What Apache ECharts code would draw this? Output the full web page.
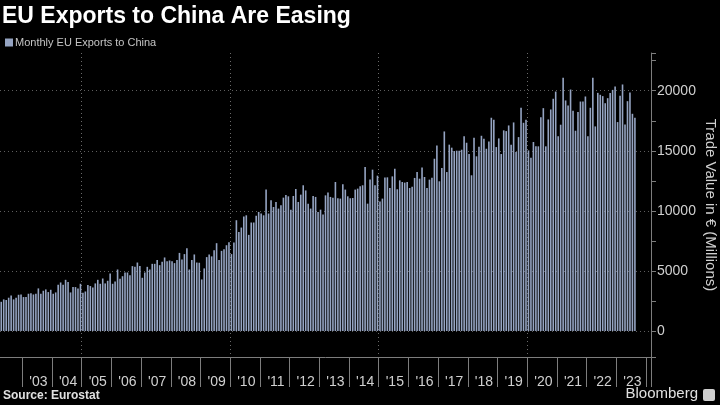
<!DOCTYPE html>
<html><head><meta charset="utf-8">
<script src="https://cdn.jsdelivr.net/npm/echarts@6/dist/echarts.min.js"></script>
<style>html,body{margin:0;padding:0;background:#000;}#c{width:720px;height:405px;}</style>
</head><body><div id="c"></div>
<script>
const chartTitle = 'EU Exports to China Are Easing';
const seriesName = 'Monthly EU Exports to China';
const axisName = 'Trade Value in € (Millions)';
const sourceText = 'Source: Eurostat';
// first data month and last month shown on the axis
const firstMonth = { year: 2002, month: 4 };
const lastAxisMonth = { year: 2024, month: 2 };

// Monthly exports, € millions (Apr 2002 .. Aug 2023)
const exports2002 = [2430, 2630, 2575, 2770, 2960, 2630, 2770, 3015, 3040];
const exports2003 = [2825, 2825, 3100, 3150, 3040, 3100, 3545, 3100, 3350, 3460, 3240, 3430];
const exports2004 = [3100, 3210, 3850, 4040, 3850, 4260, 4070, 3210, 3655, 3655, 3545, 3930];
const exports2005 = [3180, 3290, 3820, 3740, 3630, 3960, 4260, 3930, 4370, 3960, 4180, 4790];
const exports2006 = [3930, 4120, 5120, 4340, 4560, 4870, 4870, 4650, 5400, 5340, 5700, 5400];
const exports2007 = [4430, 4870, 5340, 5120, 5590, 5590, 5900, 5480, 5760, 6120, 5810, 5870];
const exports2008 = [5810, 5650, 5900, 6500, 5950, 6400, 6890, 5120, 5900, 6370, 5700, 5680];
const exports2009 = [4290, 5210, 6150, 6370, 6210, 6730, 7310, 5900, 6670, 6810, 7140, 7390];
const exports2010 = [6400, 7370, 9220, 8250, 8610, 9520, 9630, 8000, 9030, 9030, 9600, 9910];
const exports2011 = [9780, 9630, 11770, 9780, 10880, 10320, 10740, 10190, 10460, 11100, 11320, 11210];
const exports2012 = [10100, 11240, 11820, 10740, 11350, 12130, 11700, 10600, 10190, 11240, 11160, 9910];
const exports2013 = [10100, 9690, 11290, 11520, 11160, 11100, 12400, 11050, 11020, 12210, 11770, 11210];
const exports2014 = [11050, 11070, 11770, 11850, 12040, 12130, 13650, 10600, 12600, 13430, 12130, 12930];
const exports2015 = [10770, 11020, 12770, 12790, 11900, 12870, 13510, 11800, 12540, 12400, 12350, 12400];
const exports2016 = [11900, 12000, 12740, 13230, 12680, 13600, 12820, 11900, 12600, 12760, 14340, 15450];
const exports2017 = [12460, 13570, 16610, 13230, 15510, 15260, 14980, 15010, 15010, 15090, 16220, 15670];
const exports2018 = [14730, 12960, 16090, 14540, 15340, 16250, 16000, 15170, 15780, 17750, 17580, 15310];
const exports2019 = [16030, 14730, 16700, 16640, 17110, 15510, 17360, 14900, 16140, 18580, 17330, 17580];
const exports2020 = [15030, 14430, 15730, 15370, 15370, 17800, 18550, 15370, 17610, 18440, 19330, 19930];
const exports2021 = [16220, 17170, 21070, 19190, 18770, 20100, 18330, 16670, 18220, 19100, 19100, 19520];
const exports2022 = [16200, 18580, 21070, 17030, 19820, 19660, 19550, 18960, 19380, 19800, 20070, 20350];
const exports2023 = [17390, 19590, 20520, 17190, 19130, 19850, 18080, 17750];

const yearTickLabels = ["'03","'04","'05","'06","'07","'08","'09","'10","'11","'12","'13",
  "'14","'15","'16","'17","'18","'19","'20","'21","'22","'23"];

const exportValues = [].concat(exports2002, exports2003, exports2004, exports2005, exports2006,
  exports2007, exports2008, exports2009, exports2010, exports2011, exports2012, exports2013,
  exports2014, exports2015, exports2016, exports2017, exports2018, exports2019, exports2020,
  exports2021, exports2022, exports2023);

const categories = [];
for (let y = firstMonth.year, m = firstMonth.month; y < lastAxisMonth.year || (y === lastAxisMonth.year && m <= lastAxisMonth.month);) {
  categories.push(y + '-' + String(m).padStart(2, '0'));
  m++; if (m > 12) { m = 1; y++; }
}

const FONT = 'Liberation Sans, Arial, sans-serif';
const axisColor = '#7d7d7d';
const textColor = '#d0d0d0';

const chart = echarts.init(document.getElementById('c'), null, { renderer: 'canvas' });
chart.setOption({
  backgroundColor: '#000',
  animation: false,
  title: {
    text: chartTitle, left: 2, top: 5, padding: 0,
    textStyle: { color: '#ffffff', fontSize: 23, fontWeight: 'bold', fontFamily: FONT }
  },
  legend: {
    left: 5, top: 37, padding: 0, itemWidth: 8, itemHeight: 8, icon: 'rect', itemGap: 10,
    textStyle: { color: '#c4c4c4', fontSize: 11, fontFamily: FONT, padding: [0, 0, 0, -3] },
    data: [seriesName]
  },
  grid: { left: 0, right: 69, top: 53, bottom: 48, containLabel: false, outerBoundsMode: 'none' },
  xAxis: {
    type: 'category', data: categories, boundaryGap: true,
    axisLine: { show: true, onZero: false, lineStyle: { color: axisColor, width: 1 } },
    axisTick: {
      show: true, length: 30, lineStyle: { color: axisColor },
      interval: (i, v) => v.endsWith('-01')
    },
    axisLabel: {
      interval: (i, v) => v.endsWith('-07'),
      formatter: v => yearTickLabels[+v.slice(0, 4) - 2003] || '',
      color: textColor, fontSize: 14, margin: 18, fontFamily: FONT
    },
    splitLine: {
      show: true,
      interval: (i, v) => v.endsWith('-01') && (+v.slice(0, 4)) % 5 === 0,
      lineStyle: { color: '#6a6a6a', type: [1, 3], width: 1 }
    }
  },
  yAxis: {
    type: 'value', position: 'right', min: -2165, max: 23140, splitNumber: 5,
    axisLine: { show: true, lineStyle: { color: axisColor } },
    axisTick: { show: true, length: 5, lineStyle: { color: axisColor } },
    minorTick: { show: true, splitNumber: 2, length: 5, lineStyle: { color: axisColor } },
    axisLabel: {
      color: textColor, fontSize: 14, margin: 6, fontFamily: FONT,
      showMinLabel: false, showMaxLabel: false,
      formatter: v => (v % 5000 === 0 ? String(v) : '')
    },
    splitLine: {
      show: true, showMinLine: false, showMaxLine: false,
      lineStyle: { color: '#5e5e5e', type: [1, 3], width: 1 }
    },
    name: axisName, nameLocation: 'middle', nameRotate: -90, nameGap: 52,
    nameMoveOverlap: false,
    nameTextStyle: { color: textColor, fontSize: 15, fontFamily: FONT }
  },
  series: [{
    name: seriesName, type: 'bar', data: exportValues,
    itemStyle: { color: '#95a4c2' },
    barCategoryGap: '35%'
  }],
  graphic: [
    { type: 'text', left: 3, top: 390,
      style: { text: sourceText, fill: '#e0e0e0', font: 'bold 12px ' + FONT } },
    { type: 'text', right: 22, top: 386,
      style: { text: 'Bloomberg', fill: '#e0e0e0', font: '15px ' + FONT } },
    { type: 'rect', right: 5, top: 389, shape: { width: 12, height: 12, r: 2 },
      style: { fill: '#cfcfcf' } }
  ]
});
</script></body></html>
